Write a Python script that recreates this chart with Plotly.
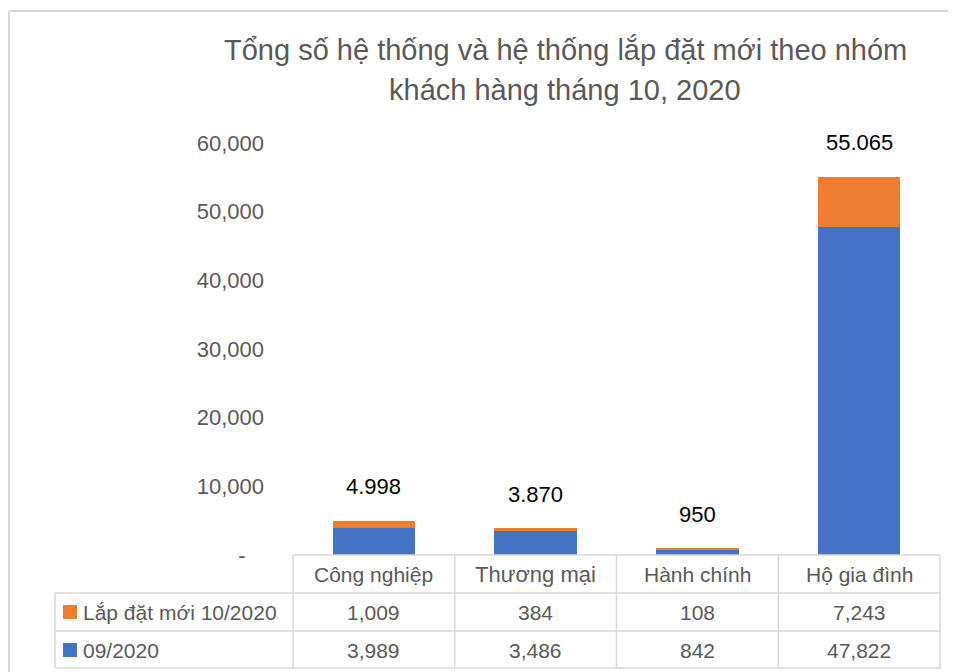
import plotly.graph_objects as go

categories = ["Công nghiệp", "Thương mại", "Hành chính", "Hộ gia đình"]
series_new_name = "Lắp đặt mới 10/2020"
series_old_name = "09/2020"
new_installs = [1009, 384, 108, 7243]
sep_2020 = [3989, 3486, 842, 47822]
y_tickvals = [0, 10000, 20000, 30000, 40000, 50000, 60000]
y_ticktext = ["-\u00a0\u00a0\u00a0", "10,000", "20,000", "30,000", "40,000", "50,000", "60,000"]
title_line1 = "Tổng số hệ thống và hệ thống lắp đặt mới theo nhóm"
title_line2 = "khách hàng tháng 10, 2020"

BLUE = "#4472C4"
ORANGE = "#ED7D31"
GRID = "#D9D9D9"
TXT = "#595959"
FONT = "Liberation Sans"

W, H = 956, 672
OFF = 8  # page body margin
# reference pixel positions of the plot area
L, R, T, B = 293, 940, 143, 555


def px(x):
    return (x - L) / (R - L)


def py(y):
    return (B - y) / (B - T)


totals = [a + b for a, b in zip(new_installs, sep_2020)]

fig = go.Figure()
fig.add_trace(go.Bar(x=categories, y=sep_2020, name=series_old_name,
                     marker=dict(color=BLUE, line=dict(width=0))))
fig.add_trace(go.Bar(x=categories, y=new_installs, name=series_new_name,
                     marker=dict(color=ORANGE, line=dict(width=0))))

annotations = []
for c, t in zip(categories, totals):
    annotations.append(dict(x=c, y=t, xref="x", yref="y", text=f"{t:,}".replace(",", "."),
                            showarrow=False, yshift=34, yanchor="middle", xanchor="center",
                            font=dict(family=FONT, size=22, color="#000000")))

# title as two centred lines
for text, yc in [(title_line1, 50), (title_line2, 90)]:
    annotations.append(dict(x=px(565), y=py(yc), xref="paper", yref="paper", text=text,
                            xanchor="center", yanchor="middle", showarrow=False,
                            font=dict(family=FONT, size=29, color=TXT)))

shapes = []
line_style = dict(color=GRID, width=1.5)
col_edges = [L + i * (R - L) / len(categories) for i in range(len(categories) + 1)]
row_y = [555, 593, 631, 668]
shapes.append(dict(type="line", xref="paper", yref="paper", x0=px(L), x1=px(R),
                   y0=py(row_y[0]), y1=py(row_y[0]), line=line_style))
for yy in row_y[1:]:
    shapes.append(dict(type="line", xref="paper", yref="paper", x0=px(55), x1=px(R),
                       y0=py(yy), y1=py(yy), line=line_style))
for xx in col_edges:
    shapes.append(dict(type="line", xref="paper", yref="paper", x0=px(xx), x1=px(xx),
                       y0=py(row_y[0]), y1=py(row_y[-1]), line=line_style))
shapes.append(dict(type="line", xref="paper", yref="paper", x0=px(55), x1=px(55),
                   y0=py(row_y[1]), y1=py(row_y[-1]), line=line_style))
# outer chart frame (left + top)
shapes.append(dict(type="line", xref="paper", yref="paper", x0=px(9), x1=px(9),
                   y0=py(11), y1=py(H + 20), line=dict(color=GRID, width=2)))
shapes.append(dict(type="line", xref="paper", yref="paper", x0=px(9), x1=px(W + 20),
                   y0=py(11), y1=py(11), line=dict(color=GRID, width=2)))

for i, c in enumerate(categories):
    cx = (col_edges[i] + col_edges[i + 1]) / 2
    annotations.append(dict(x=px(cx), y=py(574), xref="paper", yref="paper", text=c,
                            xanchor="center", yanchor="middle", showarrow=False,
                            font=dict(family=FONT, size=22 if i == 1 else 21, color=TXT)))
    annotations.append(dict(x=px(cx), y=py(612), xref="paper", yref="paper", text=f"{new_installs[i]:,}",
                            xanchor="center", yanchor="middle", showarrow=False,
                            font=dict(family=FONT, size=21, color=TXT)))
    annotations.append(dict(x=px(cx), y=py(650), xref="paper", yref="paper", text=f"{sep_2020[i]:,}",
                            xanchor="center", yanchor="middle", showarrow=False,
                            font=dict(family=FONT, size=21, color=TXT)))

for name, color, yc in [(series_new_name, ORANGE, 612), (series_old_name, BLUE, 650)]:
    shapes.append(dict(type="rect", xref="paper", yref="paper", x0=px(63), x1=px(77),
                       y0=py(yc + 7), y1=py(yc - 7), fillcolor=color, line=dict(width=0)))
    annotations.append(dict(x=px(81), y=py(yc), xref="paper", yref="paper", text=name,
                            xanchor="left", yanchor="middle", showarrow=False,
                            font=dict(family=FONT, size=21, color=TXT)))

fig.update_layout(
    width=W, height=H,
    margin=dict(l=L - OFF, r=W - (R - OFF), t=T - OFF, b=H - (B - OFF), autoexpand=False),
    paper_bgcolor="white", plot_bgcolor="white",
    barmode="stack", bargap=0.49, showlegend=False,
    xaxis=dict(showticklabels=False, showline=False, showgrid=False, zeroline=False,
               ticks=""),
    yaxis=dict(range=[0, 60000], tickvals=y_tickvals, ticktext=y_ticktext,
               showgrid=False, zeroline=False, showline=False, ticks="",
               ticklabelstandoff=28,
               tickfont=dict(family=FONT, size=22, color=TXT)),
    annotations=annotations, shapes=shapes,
)

fig.write_html("out.html")
